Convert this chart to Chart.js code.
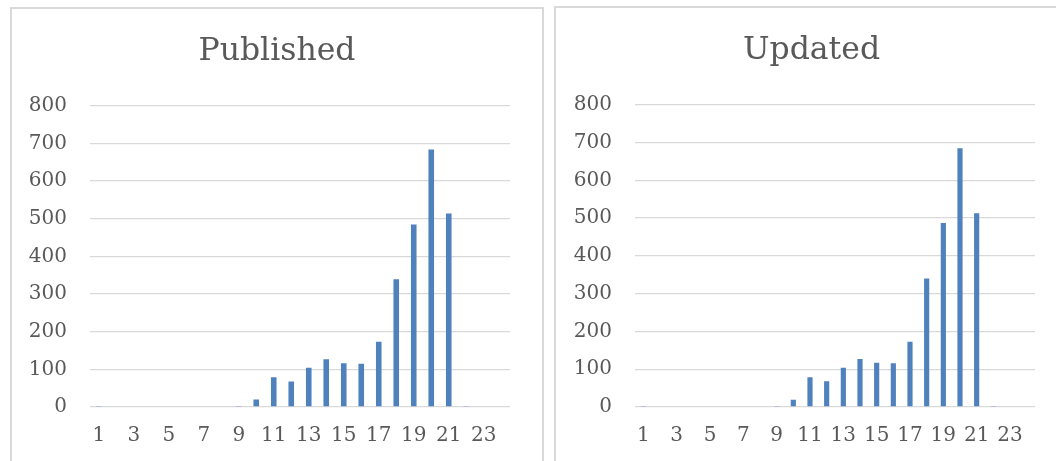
<!DOCTYPE html>
<html>
<head>
<meta charset="utf-8">
<script src="https://cdn.jsdelivr.net/npm/chart.js@4"></script>
<style>
  html, body { margin: 0; padding: 0; background: #ffffff; overflow: hidden; }
  body { width: 1056px; height: 461px; position: relative; }
  .box { position: absolute; border: 2px solid #d9d9d9; background: #fff; }
  .box canvas { position: absolute; left: 0; top: 0; }
</style>
</head>
<body>
<div class="box" id="boxLeft" style="left:10px; top:7px; width:530px; height:470px;">
  <canvas id="publishedChart" width="530" height="454"></canvas>
</div>
<div class="box" id="boxRight" style="left:554px; top:6px; width:530px; height:470px;">
  <canvas id="updatedChart" width="530" height="455"></canvas>
</div>
<script>
var hours = ["1", "2", "3", "4", "5", "6", "7", "8", "9", "10", "11", "12",
             "13", "14", "15", "16", "17", "18", "19", "20", "21", "22", "23", "24"];
var publishedCounts = [1, 0, 0, 0, 0, 0, 0, 0, 1, 20, 79, 68,
                       104, 127, 116, 115, 173, 339, 485, 684, 514, 1, 0, 0];
var updatedCounts = [1, 0, 0, 0, 0, 0, 0, 0, 1, 19, 79, 68,
                     104, 127, 117, 116, 173, 340, 487, 685, 513, 1, 0, 0];

var textColor = "#595959";
var gridColor = "#d9d9d9";
var barColor = "#4f81bd";

function makeChart(canvasId, titleText, values, g) {
  var ctx = document.getElementById(canvasId).getContext("2d");
  return new Chart(ctx, {
    type: "bar",
    data: {
      labels: hours,
      datasets: [
        {
          label: titleText,
          data: values,
          backgroundColor: barColor,
          borderWidth: 0,
          categoryPercentage: 1,
          barPercentage: g.barPct,
          yAxisID: "y",
        },
      ],
    },
    options: {
      responsive: false,
      animation: false,
      layout: {
        padding: { top: 0, right: g.padRight, bottom: 0, left: 0 },
      },
      plugins: {
        legend: { display: false },
        tooltip: { enabled: false },
        title: {
          display: true,
          text: titleText,
          color: textColor,
          font: { family: "DejaVu Serif", size: 31.5, weight: "normal" },
          padding: { top: 24, bottom: 35 },
        },
      },
      scales: {
        x: {
          grid: { display: false, drawTicks: false },
          border: { display: false },
          ticks: {
            color: textColor,
            font: { family: "DejaVu Serif", size: 20 },
            autoSkip: false,
            maxRotation: 0,
            padding: 17,
            callback: function (value, index) {
              return index % 2 === 0 ? this.getLabelForValue(value) : "";
            },
          },
          afterFit: function (scale) {
            scale.height = 56;
          },
        },
        y: {
          min: 0,
          max: 800,
          grid: { color: gridColor, lineWidth: 1.3, drawTicks: false },
          border: { display: false },
          ticks: {
            stepSize: 100,
            color: textColor,
            font: { family: "DejaVu Serif", size: 20 },
            padding: 23,
          },
          afterFit: function (scale) {
            scale.width = g.yWidth;
          },
        },
        // empty right-hand axis, only reserves the blank margin right of the plot
        yRight: {
          position: "right",
          min: 0,
          max: 800,
          grid: { display: false, drawTicks: false },
          border: { display: false },
          ticks: { display: false },
          afterFit: function (scale) {
            scale.width = g.rightGap;
          },
        },
      },
    },
  });
}

document.addEventListener("DOMContentLoaded", function () {
  makeChart("publishedChart", "Published", publishedCounts,
    { yWidth: 78, rightGap: 32, padRight: 0, barPct: 0.32 });
  makeChart("updatedChart", "Updated", updatedCounts,
    { yWidth: 79, rightGap: 32, padRight: 19, barPct: 0.31 });
});
</script>
</body>
</html>
